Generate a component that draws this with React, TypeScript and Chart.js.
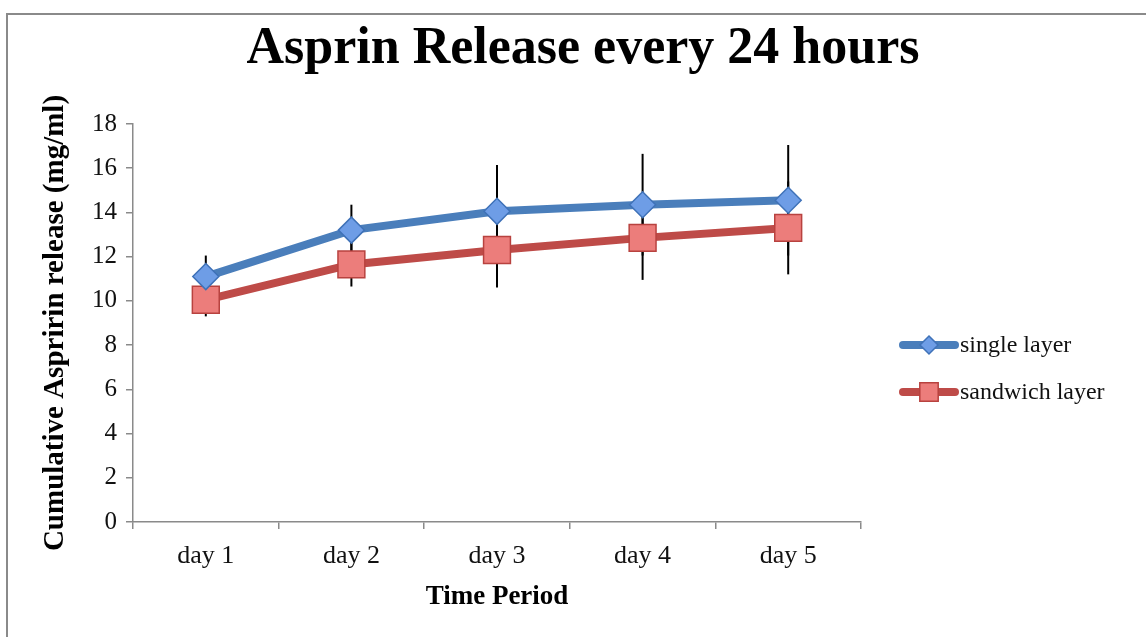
import React, { useEffect, useRef } from "react";
import { Chart, registerables } from "chart.js";

Chart.register(...registerables);

const categories = ["day 1", "day 2", "day 3", "day 4", "day 5"];
const singleLayer = [11.1, 13.2, 14.05, 14.35, 14.55];
const singleLayerErr = [0.95, 1.15, 2.1, 2.3, 2.5];
const sandwichLayer = [10.05, 11.65, 12.3, 12.85, 13.3];
const sandwichLayerErr = [0.75, 1.0, 1.7, 1.9, 2.1];
const seriesNames = ["single layer", "sandwich layer"];
const chartTitle = "Asprin Release every 24 hours";
const yTitle = "Cumulative Aspririn release (mg/ml)";
const xTitle = "Time Period";

const FONT = "'Liberation Serif', 'Times New Roman', serif";
const BLUE = "#4a7ebb";
const RED = "#be4b48";
const BLUE_FILL = "#6e9de6";
const RED_FILL = "#ec7d7b";
const BLUE_BORDER = "#3f72b8";
const RED_BORDER = "#b8423f";

const errorBarPlugin = {
  id: "errorBars",
  beforeDatasetsDraw(chart: any) {
    const { ctx } = chart;
    const y = chart.scales.y;
    const errs = [singleLayerErr, sandwichLayerErr];
    ctx.save();
    ctx.strokeStyle = "#000000";
    ctx.lineWidth = 2;
    chart.data.datasets.forEach((ds: any, di: number) => {
      const meta = chart.getDatasetMeta(di);
      meta.data.forEach((pt: any, i: number) => {
        const v = ds.data[i];
        const e = errs[di][i];
        ctx.beginPath();
        ctx.moveTo(pt.x, y.getPixelForValue(v + e));
        ctx.lineTo(pt.x, y.getPixelForValue(v - e));
        ctx.stroke();
      });
    });
    ctx.restore();
  },
};

const framePlugin = {
  id: "frame",
  afterLayout(chart: any) {
    const tb = chart.titleBlock;
    if (tb) {
      tb.left = 20;
      tb.right = chart.width;
      tb.width = tb.right - tb.left;
    }
  },
  beforeDraw(chart: any) {
    const { ctx } = chart;
    ctx.save();
    ctx.fillStyle = "#ffffff";
    ctx.fillRect(0, 0, chart.width, chart.height);
    ctx.strokeStyle = "#8a8a8a";
    ctx.lineWidth = 2;
    ctx.strokeRect(7, 14, chart.width + 20, chart.height + 20);
    ctx.restore();
  },
};

const legendPlugin = {
  id: "customLegend",
  afterDraw(chart: any) {
    const { ctx } = chart;
    const items = [
      { name: seriesNames[0], color: BLUE, fill: BLUE_FILL, border: BLUE_BORDER, style: "rectRot", r: 9, y: 345 },
      { name: seriesNames[1], color: RED, fill: RED_FILL, border: RED_BORDER, style: "rect", r: 13, y: 392 },
    ];
    ctx.save();
    items.forEach((it) => {
      ctx.strokeStyle = it.color;
      ctx.lineWidth = 8;
      ctx.lineCap = "round";
      ctx.beginPath();
      ctx.moveTo(903, it.y);
      ctx.lineTo(955, it.y);
      ctx.stroke();
      ctx.fillStyle = it.fill;
      ctx.strokeStyle = it.border;
      ctx.lineWidth = 1.5;
      ctx.lineCap = "butt";
      ctx.beginPath();
      if (it.style === "rect") {
        const s = it.r * Math.SQRT1_2;
        ctx.rect(929 - s, it.y - s, 2 * s, 2 * s);
      } else {
        ctx.moveTo(929, it.y - it.r);
        ctx.lineTo(929 + it.r, it.y);
        ctx.lineTo(929, it.y + it.r);
        ctx.lineTo(929 - it.r, it.y);
        ctx.closePath();
      }
      ctx.fill();
      ctx.stroke();
      ctx.fillStyle = "#111111";
      ctx.font = `24px ${FONT}`;
      ctx.textAlign = "left";
      ctx.textBaseline = "middle";
      ctx.fillText(it.name, 960, it.y + 1);
    });
    ctx.restore();
  },
};

export default function App() {
  const canvasRef = useRef<HTMLCanvasElement | null>(null);

  useEffect(() => {
    if (!canvasRef.current) return;
    const chart = new Chart(canvasRef.current, {
      type: "line",
      data: {
        labels: categories,
        datasets: [
          {
            label: seriesNames[0],
            data: singleLayer,
            borderColor: BLUE,
            borderWidth: 8,
            pointStyle: "rectRot",
            pointRadius: 13,
            pointBackgroundColor: BLUE_FILL,
            pointBorderColor: BLUE_BORDER,
            pointBorderWidth: 1.5,
            tension: 0,
          },
          {
            label: seriesNames[1],
            data: sandwichLayer,
            borderColor: RED,
            borderWidth: 8,
            pointStyle: "rect",
            pointRadius: 19,
            pointBackgroundColor: RED_FILL,
            pointBorderColor: RED_BORDER,
            pointBorderWidth: 1.5,
            tension: 0,
          },
        ],
      },
      options: {
        responsive: false,
        animation: false,
        layout: { padding: { left: 30, right: 285, top: 0, bottom: 0 } },
        plugins: {
          legend: { display: false },
          tooltip: { enabled: false },
          title: {
            display: true,
            text: chartTitle,
            color: "#000000",
            font: { family: FONT, size: 52, weight: "bold", lineHeight: 1.2 },
            padding: { top: 18, bottom: 43.6 },
          },
        },
        scales: {
          x: {
            offset: true,
            grid: { offset: true, drawOnChartArea: false, tickLength: 7, color: "#8a8a8a", lineWidth: 1.5 },
            border: { color: "#8a8a8a", width: 1.5 },
            ticks: { color: "#111111", font: { family: FONT, size: 26 }, padding: 12 },
            title: {
              display: true,
              text: xTitle,
              color: "#000000",
              font: { family: FONT, size: 27, weight: "bold", lineHeight: 1.2 },
              padding: { top: 0, bottom: 24 },
            },
            afterFit(scale: any) {
              scale.height = 115;
            },
          },
          y: {
            min: 0,
            max: 18,
            ticks: { stepSize: 2, color: "#111111", font: { family: FONT, size: 25 }, padding: 9 },
            grid: { drawOnChartArea: false, tickLength: 7, color: "#8a8a8a", lineWidth: 1.5 },
            border: { color: "#8a8a8a", width: 1.5 },
            title: {
              display: true,
              text: yTitle,
              color: "#000000",
              font: { family: FONT, size: 29, weight: "bold", lineHeight: 1.2 },
              padding: { top: 8, bottom: 0 },
            },
            afterFit(scale: any) {
              scale.width = 103;
            },
          },
        },
      },
      plugins: [framePlugin, errorBarPlugin, legendPlugin],
    } as any);
    return () => chart.destroy();
  }, []);

  return (
    <div style={{ position: "absolute", left: 0, top: 0, width: 1146, height: 637 }}>
      <canvas ref={canvasRef} width={1146} height={637} />
    </div>
  );
}
